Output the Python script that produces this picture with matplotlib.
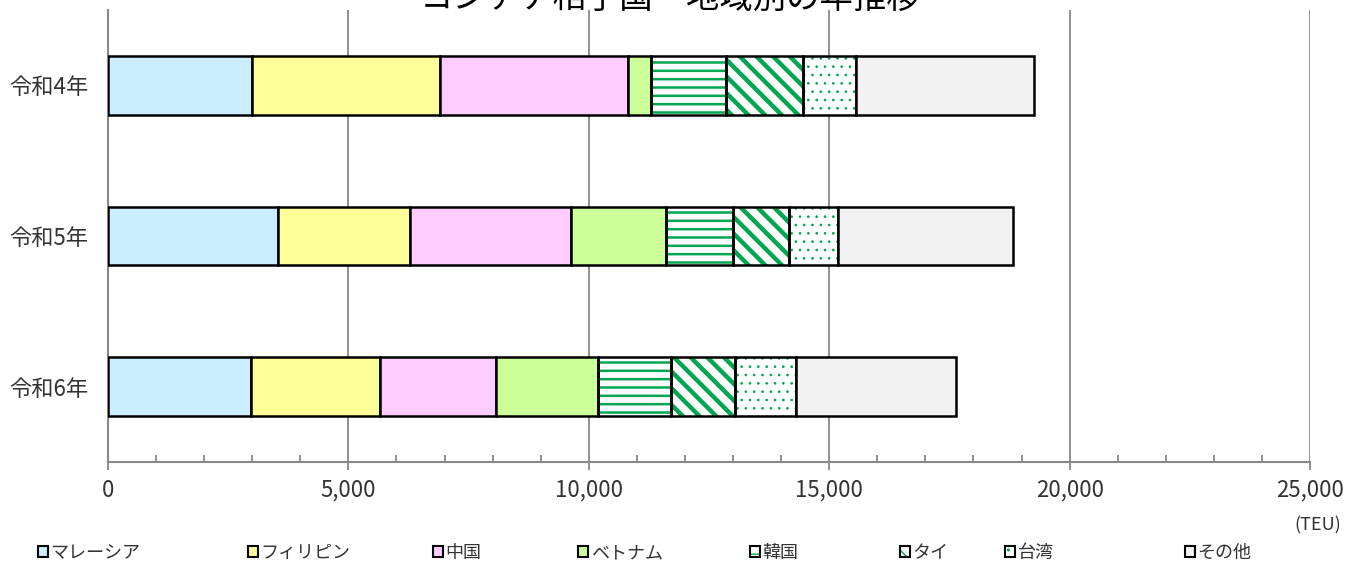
import matplotlib
matplotlib.use("Agg")
import matplotlib.pyplot as plt
from matplotlib.patches import Patch
from matplotlib.ticker import MultipleLocator, FuncFormatter

plt.rcParams['font.family'] = ['Noto Sans CJK JP', 'DejaVu Sans']

title = "コンテナ相手国・地域別の年推移"
categories = ['令和4年', '令和5年', '令和6年']
series_names = ['マレーシア', 'フィリピン', '中国', 'ベトナム', '韓国', 'タイ', '台湾', 'その他']
malaysia = [2995, 3536, 2974]
philippines = [3910, 2745, 2683]
china = [3910, 3349, 2413]
vietnam = [478, 1976, 2121]
korea = [1560, 1394, 1518]
thai = [1601, 1165, 1331]
taiwan = [1102, 1019, 1269]
others = [3702, 3640, 3328]
series_values = [malaysia, philippines, china, vietnam, korea, thai, taiwan, others]
x_ticks = [0, 5000, 10000, 15000, 20000, 25000]
unit_label = "(TEU)"

GREEN = '#00A651'
styles = [
    dict(fc='#CCECFF', hatch=None),
    dict(fc='#FFFF99', hatch=None),
    dict(fc='#FFCCFF', hatch=None),
    dict(fc='#CCFF99', hatch=None),
    dict(fc='white', hatch='--', hlw=1.8),
    dict(fc='white', hatch='\\\\', hlw=3.2),
    dict(fc='white', hatch='..', hlw=0.7),
    dict(fc='#F2F2F2', hatch=None),
]

W, H = 1361, 567
fig = plt.figure(figsize=(W / 100, H / 100), dpi=100)
ax = fig.add_axes([108 / W, 105 / H, 1202 / W, 452 / H])

ypos = list(range(len(categories)))
left = [0] * len(categories)
handles = []
for name, vals, st in zip(series_names, series_values, styles):
    if st['hatch']:
        plt.rcParams['hatch.linewidth'] = st['hlw']
        hb = ax.barh(ypos, vals, left=left, height=0.39, color=st['fc'],
                     edgecolor=GREEN, hatch=st['hatch'], linewidth=0, zorder=2)
        for p in hb:
            if hasattr(p, 'set_hatch_linewidth'):
                p.set_hatch_linewidth(st['hlw'])
    ax.barh(ypos, vals, left=left, height=0.39,
            color=st['fc'] if not st['hatch'] else 'none',
            edgecolor='black', linewidth=1.8, zorder=3)
    left = [a + b for a, b in zip(left, vals)]
    if st['hatch']:
        plt.rcParams['hatch.linewidth'] = 1.0
        h1 = Patch(facecolor='white', edgecolor=GREEN, hatch=st['hatch'], linewidth=0)
        h2 = Patch(facecolor='none', edgecolor='black', linewidth=1.5)
        handles.append((h1, h2))
    else:
        handles.append(Patch(facecolor=st['fc'], edgecolor='black', linewidth=1.5))

ax.set_xlim(0, 25000)
ax.set_ylim(2.5, -0.5)
ax.set_yticks(ypos)
ax.set_yticklabels(categories, fontsize=16, color='#333333')
ax.set_xticks(x_ticks)
ax.xaxis.set_major_formatter(FuncFormatter(lambda v, p: f"{int(v):,}"))
ax.xaxis.set_minor_locator(MultipleLocator(1000))
ax.tick_params(axis='x', which='major', direction='out', length=6, width=1.3,
               color='#888888', labelsize=16, labelcolor='#333333', pad=6)
ax.tick_params(axis='x', which='minor', direction='in', length=5, width=1.3, color='#888888')
ax.tick_params(axis='y', length=0, pad=14)
ax.grid(axis='x', which='major', color='#888888', linewidth=1.3, zorder=0)
ax.set_axisbelow(True)
for s in ['top', 'right']:
    ax.spines[s].set_visible(False)
for s in ['left', 'bottom']:
    ax.spines[s].set_color('#888888')
    ax.spines[s].set_linewidth(1.5)

fig.text(670 / W, 1 - 8 / H, title, ha='center', va='baseline', fontsize=24, color='black')
fig.text(1318 / W, 1 - 525 / H, unit_label, ha='center', va='center', fontsize=13, color='#333333')

legend_x = [38, 248, 433, 578, 750, 900, 1005, 1185]
for hx, h, name in zip(legend_x, handles, series_names):
    fig.legend(handles=[h], labels=[name], loc='center left',
               bbox_to_anchor=(hx / W, 1 - 553 / H), frameon=False,
               handlelength=0.55, handleheight=0.55, handletextpad=0.15,
               borderpad=0, borderaxespad=0, fontsize=13, labelcolor='#333333')

fig.savefig('out.png', dpi=100)
